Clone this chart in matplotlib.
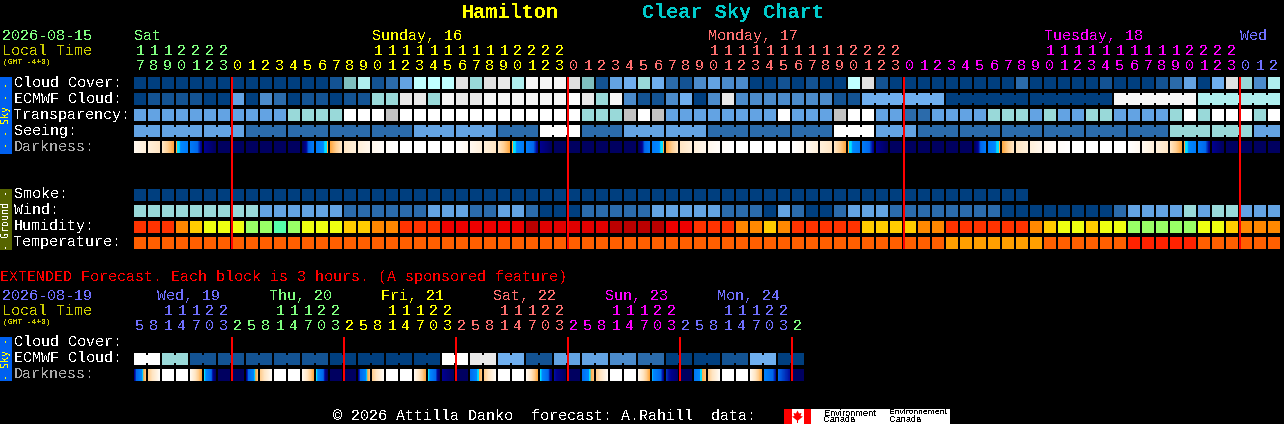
import numpy as np
import matplotlib
matplotlib.use('Agg')
import matplotlib.pyplot as plt
from matplotlib.colors import LinearSegmentedColormap
from matplotlib.patches import Polygon, Rectangle

# Forecast values, one per hour column (levels index the palettes below)
cloud_cover = [0, 0, 0, 0, 0, 0, 0, 0, 0, 0, 0, 0, 0, 0, 1, 6, 8, 1, 2, 4, 9,
               9, 9, 10, 7, 10, 11, 8, 12, 12, 12, 10, 6, 1, 4, 5, 7, 5, 2, 1, 3, 4, 3, 3, 0, 0, 1, 0, 1, 0, 0, 9,
               10, 1, 0, 0, 0, 0, 0, 0, 0, 0, 0, 2, 0, 0, 0, 0, 0, 1, 0, 0, 0, 1, 2, 4, 0, 5, 10, 7, 3, 8]
ecmwf_cloud = [0, 1, 1, 1, 1, 0, 0, 4, 0, 3, 2, 0, 1, 1, 0, 1, 1, 7, 7, 11, 11,
               7, 12, 11, 11, 12, 12, 12, 12, 12, 12, 13, 11, 7, 12, 3, 1, 1, 3, 5, 0, 3, 11, 3, 3, 3, 3, 3, 3, 3, 1, 1,
               5, 5, 5, 5, 5, 5, 0, 0, 0, 0, 0, 0, 0, 0, 0, 0, 0, 0, 12, 12, 12, 12, 12, 12, 8, 8, 8, 8, 8, 8]
transparency = [4, 4, 4, 4, 4, 4, 4, 4, 4, 4, 4, 7, 7, 7, 7, 13, 13, 13, 14, 13, 13,
                13, 13, 13, 13, 13, 13, 13, 13, 13, 13, 13, 7, 7, 7, 14, 13, 14, 4, 4, 4, 4, 4, 4, 4, 4, 13, 4, 4, 4, 14, 13,
                13, 4, 4, 2, 2, 4, 4, 4, 4, 7, 7, 7, 4, 7, 4, 4, 7, 7, 4, 4, 4, 4, 7, 13, 7, 13, 13, 13, 7, 13]
# seeing comes in 3 hour blocks, the first one is cut to 2 hours
seeing_blocks = [4, 4, 4, 2, 2, 2, 2, 4, 4, 2, 13, 2, 4, 4, 2, 2, 2, 13, 4, 2, 2, 2, 2, 2, 2, 7, 7, 4]
smoke = [0, 0, 0, 0, 0, 0, 0, 0, 0, 0, 0, 0, 0, 0, 0, 0, 0, 0, 0, 0, 0, 0, 0, 0, 0, 0, 0, 0, 0, 0, 0, 0,
         0, 0, 0, 0, 0, 0, 0, 0, 0, 0, 0, 0, 0, 0, 0, 0, 0, 0, 0, 0, 0, 0, 0, 0, 0, 0, 0, 0, 0, 0, 0, 0]
wind = [7, 7, 7, 7, 7, 7, 7, 7, 7, 4, 4, 4, 4, 4, 4, 2, 2, 2, 2, 2, 2,
        4, 4, 4, 2, 2, 4, 4, 2, 0, 0, 0, 2, 2, 2, 2, 2, 4, 4, 4, 4, 4, 2, 2, 2, 0, 4, 2, 0, 0, 2, 4,
        4, 4, 2, 2, 2, 2, 2, 2, 2, 2, 0, 0, 0, 0, 0, 0, 0, 0, 2, 4, 4, 4, 4, 7, 4, 7, 7, 4, 4, 4]
humidity = [5, 5, 5, 4, 3, 2, 2, 2, 1, 1, 0, 1, 2, 2, 2, 3, 3, 4, 4, 5, 5,
            5, 6, 6, 6, 6, 6, 6, 8, 7, 7, 7, 7, 7, 8, 8, 8, 8, 6, 6, 5, 5, 5, 4, 4, 3, 4, 5, 5, 5, 5, 5,
            3, 3, 3, 3, 4, 4, 5, 5, 5, 5, 5, 5, 4, 3, 2, 2, 3, 2, 2, 1, 1, 1, 1, 1, 2, 2, 3, 4, 4, 4]
temperature = [1, 1, 1, 1, 1, 1, 1, 1, 1, 1, 1, 1, 1, 1, 1, 1, 1, 1, 1, 1, 1,
               1, 1, 1, 1, 1, 1, 1, 1, 1, 1, 1, 1, 1, 1, 1, 1, 1, 1, 1, 1, 1, 1, 1, 1, 1, 1, 1, 1, 1, 1, 1,
               1, 1, 1, 1, 1, 1, 0, 0, 0, 0, 0, 0, 0, 1, 1, 1, 1, 1, 1, 2, 2, 2, 2, 2, 1, 1, 1, 1, 1, 1]
# darkness at the hour edges (0 day, 0.8 full night), 83 values
darkness_edges = [.05, .12, .2, .40, .53, .72, .8, .8, .8, .8, .8, .8, .8, .53, .40, .2, .12, .06, .02, 0, 0, 0, 0,
                  0, .05, .12, .2, .40, .53, .72, .8, .8, .8, .8, .8, .8, .8, .53, .40, .2, .12, .06, .02, 0, 0, 0, 0,
                  0, .05, .12, .2, .40, .53, .72, .8, .8, .8, .8, .8, .8, .8, .53, .40, .2, .12, .06, .02, 0, 0, 0, 0,
                  0, .05, .12, .2, .40, .53, .72, .8, .8, .8, .8, .8]

main_hours = [17, 18, 19, 20, 21, 22, 23,
              0, 1, 2, 3, 4, 5, 6, 7, 8, 9, 10, 11, 12, 13, 14, 15, 16, 17, 18, 19, 20, 21, 22, 23,
              0, 1, 2, 3, 4, 5, 6, 7, 8, 9, 10, 11, 12, 13, 14, 15, 16, 17, 18, 19, 20, 21, 22, 23,
              0, 1, 2, 3, 4, 5, 6, 7, 8, 9, 10, 11, 12, 13, 14, 15, 16, 17, 18, 19, 20, 21, 22, 23,
              0, 1, 2]
main_days = ['Sat', 'Sunday, 16', 'Monday, 17', 'Tuesday, 18', 'Wed']

# Extended forecast, 3 hour columns
ext_hours = [5, 8, 11, 14, 17, 20, 23,
             2, 5, 8, 11, 14, 17, 20, 23,
             2, 5, 8, 11, 14, 17, 20, 23,
             2, 5, 8, 11, 14, 17, 20, 23,
             2, 5, 8, 11, 14, 17, 20, 23,
             2, 5, 8, 11, 14, 17, 20, 23,
             2]
ext_days = ['Wed, 19', 'Thu, 20', 'Fri, 21', 'Sat, 22', 'Sun, 23', 'Mon, 24']
ext_ecmwf_blocks = [13, 7, 1, 1, 1, 1, 1, 0, 0, 0, 0, 13, 11, 5, 1, 4, 4, 3, 2, 0, 0, 1, 5, 0]
ext_dark_start = [.72, .3, 0, 0, .05, .41, .8, .8, .72, .3, 0, 0, .05, .41, .8, .8, .72, .3, 0, 0, .05, .41, .72, .8,
                  .62, .3, 0, 0, .05, .41, .7, .8, .6, .3, 0, 0, .05, .44, .68, .8, .55, .3, 0, 0, .05, .5, .65, .8]
ext_dark_end = [.33, .03, 0, 0, .40, .8, .8, .8, .33, .03, 0, 0, .40, .8, .8, .8, .33, .03, 0, 0, .40, .78, .8, .8,
                .33, .03, 0, 0, .40, .75, .8, .8, .33, .03, 0, 0, .40, .72, .78, .8, .33, .03, 0, 0, .40, .7, .7, .8]

cloud_palette = ['#003F7F', '#135393', '#2B6BAB', '#4B8BCB', '#63A3E3', '#6FAFEF', '#7FBFBF', '#99D9D9',
                 '#AFEFEF', '#BFFFFF', '#E0E0E0', '#E9E9E9', '#F6F6F6', '#FFFFFF', '#C3C3C3']
humidity_palette = ['#55FFAA', '#99FF66', '#EEFF11', '#FFCC00', '#FF8800', '#FF3300', '#EE0000', '#E00000', '#BB0000']
temperature_palette = ['#FF9F00', '#FF5F00', '#FF2200']
dark_cmap = LinearSegmentedColormap.from_list('darkness', [
    (0, '#FFFFFF'), (.1, '#FFF2E0'), (.2, '#FFE6C4'), (.3, '#FFCE90'), (.4, '#FFA840'), (.405, '#00E0FF'),
    (.43, '#00E0FF'), (.45, '#0088FF'), (.65, '#0068EC'), (.7, '#0010A0'), (.72, '#000090'), (.8, '#000060'),
    (1, '#000060')], N=512)
day_colors = ['#80FF80', '#FFFF00', '#FF7070', '#FF00FF', '#7070FF']
ext_day_colors = ['#7070FF', '#80FF80', '#FFFF00', '#FF7070', '#FF00FF', '#7070FF', '#80FF80']

LEFT, PITCH, SIZE = 134, 14, 12
MONO = 'Liberation Mono'
plt.rcParams['text.antialiased'] = False

fig = plt.figure(figsize=(12.84, 4.24), dpi=100, facecolor='black')
ax = fig.add_axes([0, 0, 1, 1])
ax.set_axis_off()
ax.set_facecolor('black')


def put(x, y, s, color='white', size=10.8, family=MONO, **kw):
    kw.setdefault('ha', 'left')
    ax.text(x, y + 1, s, color=color, fontsize=size, family=family, va='center', **kw)


def box(x, y, w, h, color, z=2):
    ax.add_patch(Rectangle((x, y), w, h, facecolor=color, edgecolor='none', antialiased=False, zorder=z))


def draw_row(values, y, palette, groups=None):
    for col, v in enumerate(values):
        x = LEFT + col * PITCH
        box(x, y, SIZE, SIZE, palette[v])
        # blocks of one forecast step are joined by a short neck
        if groups is not None and col + 1 < len(values) and groups[col] == groups[col + 1]:
            box(x + SIZE, y + 2, PITCH - SIZE, SIZE - 4, palette[v])


def draw_darkness(starts, ends, y):
    for col, (a, b) in enumerate(zip(starts, ends)):
        x = LEFT + col * PITCH
        ax.imshow(np.linspace(a, b, SIZE)[np.newaxis, :], cmap=dark_cmap, vmin=0, vmax=1, aspect='auto',
                  interpolation='nearest', extent=(x, x + SIZE, y + SIZE, y), zorder=2)


def draw_hours(hours, y_tens, y_units, day_idx, colors):
    for col, h in enumerate(hours):
        x = LEFT + col * PITCH + SIZE / 2
        c = colors[day_idx[col]]
        if h >= 10:
            put(x, y_tens, str(h // 10), c, ha='center')
        put(x, y_units, str(h % 10), c, ha='center')


def day_index(hours):
    # a new day starts where the hour number falls
    return np.concatenate([[0], np.cumsum(np.diff(hours) < 0)])


def label_col(hours, day_idx, i):
    # the day name sits over the two digit hours, or over the first column if there are none
    cols = np.where(day_idx == i)[0]
    late = [c for c in cols if hours[c] >= 10]
    return late[0] if late else cols[0]


# Title
put(462, 11, 'Hamilton', '#FFFF00', 14.5, fontweight='bold')
put(642, 11, 'Clear Sky Chart', '#00CCCC', 14.5, fontweight='bold')

# Main chart header
put(2, 35, '2026-08-15', day_colors[0])
put(2, 50, 'Local Time', '#CCCC00')
put(3, 61, '(GMT -4+0)', '#CCCC00', 5.7)
main_idx = day_index(main_hours)
for i, day in enumerate(main_days):
    put(LEFT + label_col(main_hours, main_idx, i) * PITCH, 35, day, day_colors[i])
draw_hours(main_hours, 50, 65, main_idx, day_colors)

# Side bars
box(0, 77, 12, 77, '#0060F0')
box(0, 189, 12, 61, '#566400')
box(0, 337, 12, 44, '#0060F0')
put(6, 114.5, '- - Sky - -', '#FFFF00', 7.2, family='DejaVu Sans Mono', rotation=90, ha='center')
put(6, 218.5, '- Ground -', 'white', 7.2, family='DejaVu Sans Mono', rotation=90, ha='center')
put(6, 358, '- Sky -', '#FFFF00', 7.2, family='DejaVu Sans Mono', rotation=90, ha='center')

# Row labels
for y, label, c in [(82, 'Cloud Cover:', 'white'), (98, 'ECMWF Cloud:', 'white'), (114, 'Transparency:', 'white'),
                    (130, 'Seeing:', 'white'), (146, 'Darkness:', '#AAAAAA'), (193, 'Smoke:', 'white'),
                    (209, 'Wind:', 'white'), (225, 'Humidity:', 'white'), (241, 'Temperature:', 'white'),
                    (341, 'Cloud Cover:', 'white'), (357, 'ECMWF Cloud:', 'white'), (373, 'Darkness:', '#AAAAAA')]:
    put(14, y, label, c)

# Main rows
seeing_values = [seeing_blocks[0]] * 2 + [v for v in seeing_blocks[1:-1] for _ in range(3)] + [seeing_blocks[-1]] * 2
seeing_groups = [(col + 1) // 3 for col in range(len(seeing_values))]
ecmwf_groups = [col if col < 52 else 100 + (col - 52) // 6 for col in range(len(ecmwf_cloud))]
draw_row(cloud_cover, 77, cloud_palette)
draw_row(ecmwf_cloud, 93, cloud_palette, ecmwf_groups)
draw_row(transparency, 109, cloud_palette)
draw_row(seeing_values, 125, cloud_palette, seeing_groups)
draw_darkness(darkness_edges[:-1], darkness_edges[1:], 141)
draw_row(smoke, 189, cloud_palette)
draw_row(wind, 205, cloud_palette)
draw_row(humidity, 221, humidity_palette)
draw_row(temperature, 237, temperature_palette)

# Midnight lines
for col in np.where(np.array(main_hours) == 0)[0]:
    box(LEFT + col * PITCH - 1, 77, 2, 172, '#FF0000', z=3)

# Extended forecast
put(0, 276, 'EXTENDED Forecast. Each block is 3 hours. (A sponsored feature)', '#FF0000')
put(2, 295, '2026-08-19', '#7070FF')
put(2, 310, 'Local Time', '#CCCC00')
put(3, 321, '(GMT -4+0)', '#CCCC00', 5.7)
ext_idx = day_index(ext_hours)
for i, day in enumerate(ext_days):
    put(LEFT + label_col(ext_hours, ext_idx, i) * PITCH - 5, 295, day, ext_day_colors[i])
draw_hours(ext_hours, 310, 325, ext_idx, ext_day_colors)

ext_values = [v for v in ext_ecmwf_blocks for _ in range(2)]
draw_row(ext_values, 353, cloud_palette, [col // 2 for col in range(len(ext_values))])
draw_darkness(ext_dark_start, ext_dark_end, 369)
for col in np.where(np.diff(ext_hours) < 0)[0] + 1:
    box(LEFT + col * PITCH - 1, 337, 2, 44, '#FF0000', z=3)

# Footer with the Environment Canada logo
put(333, 415, '\u00a9 2026 Attilla Danko  forecast: A.Rahill  data:')
box(784, 409, 166, 15, 'white')
box(784, 409, 8, 15, '#FF0000')
box(804, 409, 7, 15, '#FF0000')
ax.add_patch(Polygon([(797.5, 410.5), (799, 413.5), (801.5, 413), (800.5, 416), (803, 416.5), (798, 420.5), (798, 423),
                      (797, 423), (797, 420.5), (792, 416.5), (794.5, 416), (793.5, 413), (796, 413.5)],
                     facecolor='#FF0000', edgecolor='none', zorder=3))
for x, top, bottom, fs in [(824, 'Environment', 'Canada', 6.6), (889, 'Environnement', 'Canada', 6.1)]:
    ax.text(x, 413, top, color='black', fontsize=fs, family='Liberation Sans', va='center', zorder=3)
    ax.text(x, 420, bottom, color='black', fontsize=6.6, family='Liberation Sans', va='center', zorder=3)

ax.set_xlim(0, 1284)
ax.set_ylim(424, 0)
fig.savefig('out.png', dpi=100, facecolor='black')
